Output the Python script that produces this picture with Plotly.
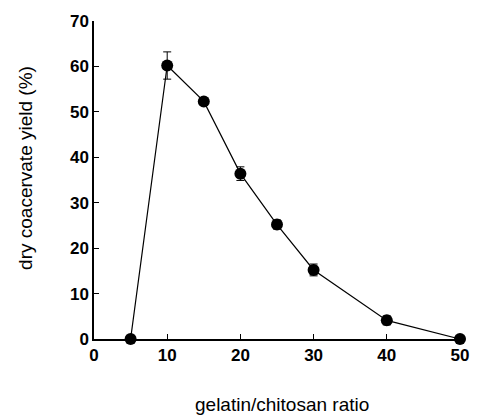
import plotly.graph_objects as go

ratio = [5, 10, 15, 20, 25, 30, 40, 50]
yield_pct = [0, 60.2, 52.3, 36.4, 25.2, 15.2, 4.1, 0]
err = [0, 3.0, 0.6, 1.5, 1.0, 1.3, 1.0, 0]
x_ticks = [0, 10, 20, 30, 40, 50]
y_ticks = [0, 10, 20, 30, 40, 50, 60, 70]
x_title = "gelatin/chitosan ratio"
y_title = "dry coacervate yield (%)"

fig = go.Figure()
fig.add_trace(go.Scatter(
    x=ratio, y=yield_pct,
    mode="lines+markers",
    line=dict(color="black", width=1.2),
    marker=dict(color="black", size=12),
    error_y=dict(type="data", array=err, visible=True, color="black", thickness=1, width=4),
    cliponaxis=False,
    showlegend=False,
))

axis_common = dict(
    showgrid=False, zeroline=False, showline=True, linecolor="black", linewidth=1.5,
    ticks="inside", ticklen=5, tickwidth=1, tickcolor="black",
    tickfont=dict(family="Liberation Sans", size=17, color="black", weight="bold"),
)

title_font = dict(family="Liberation Sans", size=19, color="black")

fig.update_layout(
    width=481, height=417,
    margin=dict(l=94, r=12, t=19, b=78),
    paper_bgcolor="white", plot_bgcolor="white",
    xaxis=dict(range=[0, 50], tickvals=x_ticks, **axis_common),
    yaxis=dict(range=[0, 70], tickvals=y_ticks, **axis_common),
    annotations=[
        dict(text=x_title, xref="paper", yref="paper", x=0.515, y=-0.206,
             xanchor="center", yanchor="middle", showarrow=False, font=title_font),
        dict(text=y_title, xref="paper", yref="paper", x=-0.189, y=0.5375,
             xanchor="center", yanchor="middle", showarrow=False, textangle=-90,
             font=title_font),
    ],
)

fig.write_html("out.html")
